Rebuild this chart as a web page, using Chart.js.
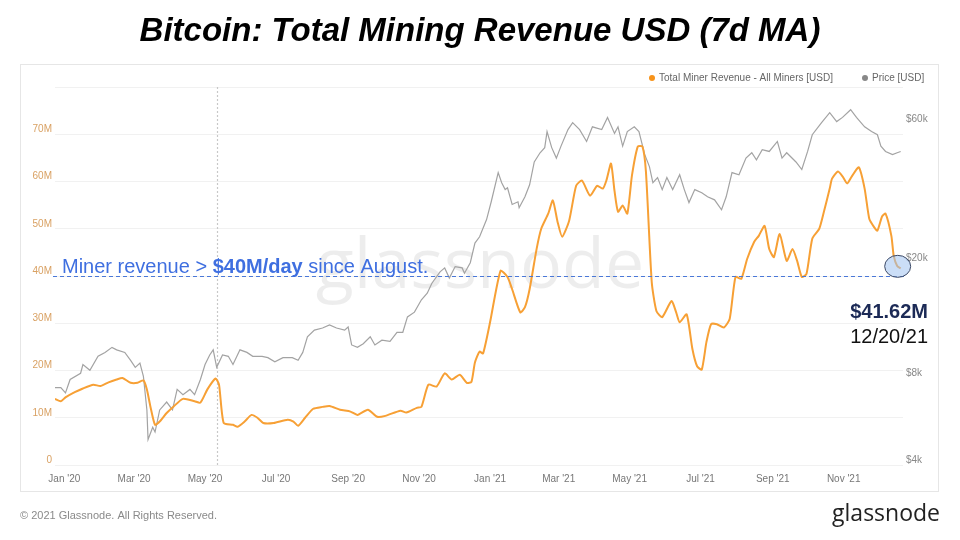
<!DOCTYPE html>
<html>
<head>
<meta charset="utf-8">
<script src="https://cdn.jsdelivr.net/npm/chart.js@4.4.0/dist/chart.umd.min.js"></script>
<style>
  body { margin: 0; background: #fff; }
  #wrap { width: 960px; height: 540px; }
</style>
</head>
<body>
<div id="wrap"><canvas id="myChart" width="960" height="540"></canvas></div>
<script>
// days counted from 1 Jan 2020
const revenueDays = [-8, -3, 1, 9, 16, 25, 31, 38, 45, 50, 57, 63, 68, 71, 74, 78, 82, 88, 94, 102,
  112, 117, 123, 130, 133, 137, 145, 149, 155, 161, 166, 171, 180, 192, 197, 201, 207, 214, 222, 228,
  237, 246, 252, 261, 269, 276, 289, 294, 303, 307, 313, 320, 327, 333, 340, 346, 350, 353, 357, 360,
  366, 375, 381, 385, 392, 396, 400, 406, 410, 416, 420, 424, 428, 434, 440, 445, 452, 458, 463, 466,
  470, 473, 476, 480, 484, 488, 493, 497, 500, 505, 509, 514, 522, 526, 529, 535, 540, 544, 548, 552,
  556, 561, 567, 572, 577, 582, 587, 593, 597, 602, 606, 610, 615, 621, 626, 630, 634, 638, 643, 649,
  653, 658, 660, 665, 669, 673, 677, 683, 688, 692, 696, 699, 703, 706, 711, 713, 716, 719];
// Total miner revenue, millions USD (7d MA)
const revenueM = [14.0, 13.5, 14.3, 15.4, 16.2, 17.0, 16.7, 17.5, 18.1, 18.4, 17.4, 17.4, 17.9, 16.0, 12.4, 8.5, 9.2, 11.0, 12.4, 14.0,
  13.5, 13.2, 16.0, 18.3, 17.0, 8.9, 8.5, 8.1, 9.2, 10.6, 10.0, 8.9, 8.9, 9.6, 9.2, 8.3, 10.0, 11.9, 12.3, 12.5,
  11.7, 11.3, 10.6, 11.7, 10.2, 10.4, 11.5, 11.1, 12.1, 12.3, 17.0, 16.6, 19.4, 18.1, 19.1, 17.4, 17.6, 21.7, 24.0, 23.6,
  30.2, 41.1, 39.8, 37.2, 32.3, 33.4, 37.2, 45.7, 50.0, 53.2, 56.0, 51.5, 48.3, 51.7, 59.1, 60.2, 57.0, 59.1, 58.5, 60.2,
  63.8, 58.0, 53.6, 54.9, 53.2, 61.3, 67.4, 67.4, 62.1, 38.7, 32.6, 31.3, 34.7, 32.3, 30.2, 31.9, 24.5, 20.9, 20.2, 26.0,
  29.8, 29.8, 29.1, 30.9, 39.8, 39.4, 43.6, 47.2, 48.5, 50.6, 45.7, 44.0, 48.9, 43.2, 45.7, 43.2, 39.8, 40.4, 47.9, 50.0,
  53.6, 58.5, 60.6, 62.1, 61.1, 59.6, 61.1, 63.0, 58.5, 52.1, 50.4, 49.6, 52.6, 53.2, 48.5, 44.3, 42.1, 41.62];

const priceDays = [-9, -3, 1, 5, 14, 16, 22, 29, 35, 41, 45, 52, 57, 61, 65, 68, 71, 72, 76, 78,
  82, 88, 93, 97, 102, 108, 112, 117, 121, 125, 128, 131, 136, 141, 145, 151, 157, 162, 170, 175,
  181, 188, 196, 201, 205, 209, 215, 222, 228, 234, 241, 244, 247, 252, 257, 263, 267, 273, 280, 286,
  291, 295, 301, 307, 312, 316, 323, 327, 331, 336, 342, 344, 349, 353, 357, 363, 367, 373, 376, 379,
  381, 385, 390, 391, 396, 400, 404, 409, 413, 415, 419, 423, 427, 433, 437, 443, 449, 454, 462, 467,
  473, 476, 480, 484, 490, 494, 499, 503, 506, 510, 514, 518, 523, 529, 533, 537, 542, 548, 553, 559,
  565, 569, 574, 580, 586, 591, 595, 600, 606, 613, 617, 621, 629, 634, 639, 643, 651, 658, 664, 669,
  676, 681, 688, 694, 699, 702, 706, 712, 716, 719];
// BTC price, USD
const priceUsd = [7400, 7400, 7100, 7900, 8300, 8900, 8500, 9500, 9800, 10200, 10000, 9800, 9200, 8700, 9000, 8100, 6200, 4900, 5400, 5200,
  6200, 6600, 6200, 7300, 7000, 7300, 7000, 7900, 8900, 9600, 10000, 8700, 9600, 9500, 8900, 10000, 9800, 9500, 9500, 9400,
  9100, 9400, 9400, 9200, 9800, 11100, 11700, 11900, 12200, 11900, 11700, 12000, 10400, 10200, 10500, 11100, 10400, 10800, 10700, 11500,
  11500, 13000, 13500, 14900, 15700, 17000, 18600, 19200, 17700, 19400, 19200, 18400, 20000, 23400, 24600, 28200, 32500, 41000, 37800, 35800,
  36300, 31800, 32500, 31000, 33800, 37200, 44600, 48000, 50000, 56800, 50000, 46000, 50600, 57700, 61000, 57700, 52500, 59000, 57700, 63600,
  56000, 59000, 50600, 56800, 59000, 56800, 47300, 43000, 37800, 39400, 35800, 39400, 35800, 40300, 35800, 32300, 35800, 34900, 33800, 33000,
  30500, 33800, 41000, 40300, 46000, 48000, 45400, 49200, 48500, 52500, 46000, 48000, 44600, 42000, 48500, 55400, 61000, 66000, 61500, 63600,
  67600, 63600, 59000, 56800, 55400, 50600, 48500, 47300, 48000, 48500];

const tickDays = [0, 60, 121, 182, 244, 305, 366, 425, 486, 547, 609, 670];
const tickLabels = ["Jan '20", "Mar '20", "May '20", "Jul '20", "Sep '20", "Nov '20",
  "Jan '21", "Mar '21", "May '21", "Jul '21", "Sep '21", "Nov '21"];
const priceTicks = [4000, 8000, 20000, 60000];
const halvingDay = 131;
const thresholdM = 40;

const FONT = "'Liberation Sans', Arial, sans-serif";

const decor = {
  id: 'decor',
  beforeDraw(chart) {
    const ctx = chart.ctx;
    ctx.save();
    ctx.fillStyle = '#fff';
    ctx.fillRect(0, 0, chart.width, chart.height);
    // title
    ctx.fillStyle = '#000';
    ctx.font = "italic bold 33px " + FONT;
    ctx.textAlign = 'center';
    ctx.textBaseline = 'middle';
    ctx.fillText('Bitcoin: Total Mining Revenue USD (7d MA)', 480, 32);
    // card
    ctx.strokeStyle = '#e6e6e6';
    ctx.lineWidth = 1;
    ctx.strokeRect(20.5, 64.5, 918, 427);
    // legend
    ctx.font = "10px " + FONT;
    ctx.textAlign = 'left';
    ctx.fillStyle = '#f7931a';
    ctx.beginPath(); ctx.arc(652, 78, 3, 0, Math.PI * 2); ctx.fill();
    ctx.fillStyle = '#666';
    ctx.fillText('Total Miner Revenue - All Miners [USD]', 659, 78);
    ctx.fillStyle = '#888';
    ctx.beginPath(); ctx.arc(865, 78, 3, 0, Math.PI * 2); ctx.fill();
    ctx.fillStyle = '#666';
    ctx.fillText('Price [USD]', 872, 78);
    // footer
    ctx.fillStyle = '#8a8a8a';
    ctx.font = "11px " + FONT;
    ctx.fillText('\u00a9 2021 Glassnode. All Rights Reserved.', 20, 516);
    ctx.fillStyle = '#222';
    ctx.font = "500 23px 'Open Sans', " + FONT;
    ctx.textAlign = 'right';
    ctx.fillText('glassnode', 940, 514);
    ctx.restore();
  },
  beforeDatasetsDraw(chart) {
    const ctx = chart.ctx;
    const a = chart.chartArea;
    const x = chart.scales.x;
    ctx.save();
    // watermark
    ctx.fillStyle = 'rgba(0,0,0,0.07)';
    ctx.font = "70px 'Open Sans', " + FONT;
    ctx.textAlign = 'center';
    ctx.textBaseline = 'middle';
    ctx.fillText('glassnode', 480, 268);
    // halving line
    const hx = Math.round(x.getPixelForValue(halvingDay)) + 0.5;
    ctx.strokeStyle = '#c8c8c8';
    ctx.setLineDash([2, 2]);
    ctx.lineWidth = 1.2;
    ctx.beginPath(); ctx.moveTo(hx, a.top); ctx.lineTo(hx, a.bottom); ctx.stroke();
    ctx.restore();
  },
  afterDatasetsDraw(chart) {
    const ctx = chart.ctx;
    const a = chart.chartArea;
    const yL = chart.scales.y;
    const x = chart.scales.x;
    ctx.save();
    // threshold line
    const ty = Math.round(yL.getPixelForValue(thresholdM)) + 0.5;
    ctx.strokeStyle = '#4a78d8';
    ctx.lineWidth = 1;
    ctx.setLineDash([4, 3]);
    ctx.beginPath(); ctx.moveTo(a.left - 2, ty); ctx.lineTo(a.right + 2, ty); ctx.stroke();
    ctx.setLineDash([]);
    // annotation text
    ctx.textBaseline = 'alphabetic';
    ctx.textAlign = 'left';
    let tx = 62;
    const parts = [['Miner revenue > ', ''], ['$40M/day', 'bold '], [' since August.', '']];
    parts.forEach(p => {
      ctx.font = p[1] + "20px " + FONT;
      ctx.fillStyle = '#3f6fe0';
      ctx.fillText(p[0], tx, 273);
      tx += ctx.measureText(p[0]).width;
    });
    // last point ellipse
    const lastI = revenueDays.length - 1;
    const px = x.getPixelForValue(revenueDays[lastI]) - 3;
    const py = yL.getPixelForValue(revenueM[lastI]) - 2;
    ctx.fillStyle = 'rgba(160,195,240,0.55)';
    ctx.strokeStyle = '#3d4a66';
    ctx.lineWidth = 1;
    ctx.beginPath(); ctx.ellipse(px, py, 13, 11, 0, 0, Math.PI * 2); ctx.fill(); ctx.stroke();
    // value label
    ctx.textAlign = 'right';
    ctx.fillStyle = '#1c2a56';
    ctx.font = "bold 20px " + FONT;
    ctx.fillText('$' + revenueM[lastI].toFixed(2) + 'M', 928, 318);
    ctx.fillStyle = '#111';
    ctx.font = "20px " + FONT;
    ctx.fillText('12/20/21', 928, 343);
    ctx.restore();
  }
};

const config = {
  type: 'line',
  data: {
    datasets: [{
      label: 'Total Miner Revenue - All Miners [USD]',
      data: revenueDays.map((d, i) => ({ x: d, y: revenueM[i] })),
      borderColor: '#f7a035',
      borderWidth: 2,
      pointRadius: 0,
      tension: 0.2,
      yAxisID: 'y'
    }, {
      label: 'Price [USD]',
      data: priceDays.map((d, i) => ({ x: d, y: priceUsd[i] })),
      borderColor: '#a3a3a3',
      borderWidth: 1.2,
      pointRadius: 0,
      tension: 0,
      yAxisID: 'y1'
    }]
  },
  options: {
    responsive: false,
    animation: false,
    layout: { padding: { left: 20, right: 22, top: 87, bottom: 48 } },
    scales: {
      x: {
        type: 'linear',
        min: -8,
        max: 721,
        grid: { display: false, drawTicks: false },
        border: { display: false },
        afterBuildTicks: s => { s.ticks = tickDays.map(v => ({ value: v })); },
        afterFit: s => { s.height = 27; },
        ticks: {
          autoSkip: false,
          maxRotation: 0,
          padding: 8,
          color: '#777',
          font: { family: FONT, size: 10 },
          callback: (v, i) => tickLabels[i]
        }
      },
      y: {
        position: 'left',
        min: 0,
        max: 80,
        grid: { color: '#f1f1f1', drawTicks: false },
        border: { display: false },
        afterFit: s => { s.width = 35; },
        ticks: {
          stepSize: 10,
          padding: 3,
          labelOffset: -5,
          color: '#d9a163',
          font: { family: FONT, size: 10 },
          callback: v => v === 80 ? '' : (v === 0 ? '0' : v + 'M')
        }
      },
      y1: {
        type: 'logarithmic',
        position: 'right',
        min: 4000,
        max: 81000,
        grid: { display: false, drawTicks: false },
        border: { display: false },
        afterFit: s => { s.width = 35; },
        afterBuildTicks: s => { s.ticks = priceTicks.map(v => ({ value: v })); },
        ticks: {
          padding: 3,
          labelOffset: -5,
          color: '#888',
          font: { family: FONT, size: 10 },
          callback: v => '$' + (v / 1000) + 'k'
        }
      }
    },
    plugins: {
      legend: { display: false },
      tooltip: { enabled: false }
    }
  },
  plugins: [decor]
};

const myChart = new Chart(document.getElementById('myChart'), config);
</script>
</body>
</html>
